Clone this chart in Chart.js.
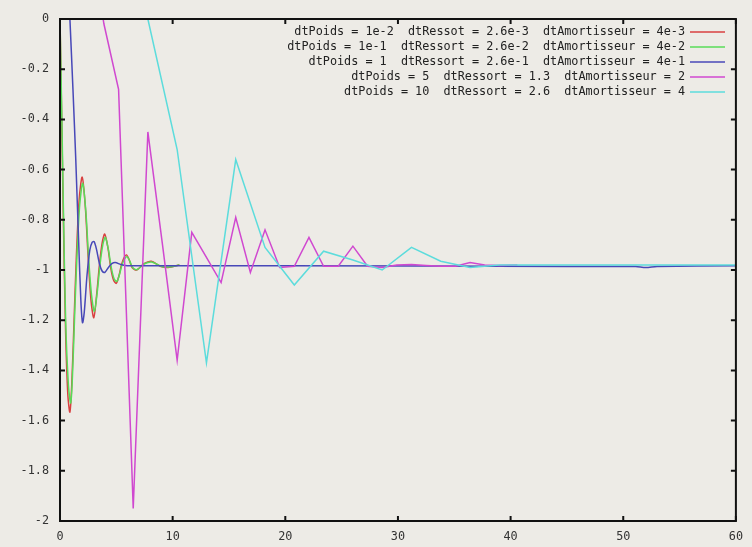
<!DOCTYPE html>
<html>
<head>
<meta charset="utf-8">
<script src="https://cdn.jsdelivr.net/npm/chart.js@4"></script>
<style>
  html, body { margin: 0; padding: 0; background: #edebe6; }
  #wrap { width: 752px; height: 547px; }
</style>
</head>
<body>
<div id="wrap"><canvas id="myChart" width="752" height="547"></canvas></div>
<script>
// values (time, position)
var redX = [0, 0.15, 0.3, 0.5, 0.7, 0.88, 1.05, 1.25, 1.45, 1.7, 1.97, 2.25, 2.5, 2.75, 3.0, 3.25, 3.5, 3.75, 3.97, 4.25, 4.5, 4.75, 5.0, 5.25, 5.45, 5.7, 5.9, 6.15, 6.4, 6.8, 7.45, 8.1, 8.9, 9.6, 10.6];
var redY = [0, -0.4, -0.8, -1.25, -1.5, -1.566, -1.45, -1.2, -0.95, -0.72, -0.63, -0.75, -0.95, -1.12, -1.19, -1.1, -0.98, -0.89, -0.857, -0.91, -0.99, -1.04, -1.053, -1.02, -0.98, -0.95, -0.94, -0.96, -0.99, -1.0, -0.975, -0.965, -0.985, -0.99, -0.98];

var greenX = [0, 0.15, 0.3, 0.5, 0.75, 0.95, 1.1, 1.3, 1.5, 1.75, 2.02, 2.3, 2.55, 2.8, 3.05, 3.3, 3.55, 3.8, 4.02, 4.3, 4.55, 4.8, 5.05, 5.3, 5.5, 5.75, 5.95, 6.2, 6.45, 6.85, 7.5, 8.15, 8.95, 9.65, 10.6];
var greenY = [0, -0.36, -0.75, -1.2, -1.46, -1.53, -1.43, -1.18, -0.95, -0.74, -0.655, -0.77, -0.96, -1.1, -1.165, -1.09, -0.98, -0.9, -0.87, -0.92, -0.99, -1.035, -1.045, -1.015, -0.98, -0.955, -0.947, -0.965, -0.99, -0.998, -0.975, -0.968, -0.985, -0.988, -0.98];

var blueX = [0.88, 1.15, 1.4, 1.65, 1.85, 2.0, 2.15, 2.4, 2.65, 2.85, 3.03, 3.25, 3.5, 3.75, 3.97, 4.3, 4.6, 4.9, 5.4, 6, 20, 45, 46, 47.4, 48.8, 51.1, 52, 53, 60];
var blueY = [0, -0.28, -0.56, -0.88, -1.12, -1.21, -1.17, -1.02, -0.92, -0.89, -0.887, -0.92, -0.975, -1.005, -1.01, -0.99, -0.975, -0.97, -0.978, -0.983, -0.983, -0.986, -0.986, -0.986, -0.986, -0.986, -0.99, -0.986, -0.983];

var magentaX = [2.6, 3.9, 5.2, 6.5, 7.8, 9.1, 10.4, 11.7, 13.0, 14.3, 15.6, 16.9, 18.2, 19.5, 20.8, 22.1, 23.4, 24.7, 26.0, 27.3, 28.6, 29.9, 31.2, 32.5, 33.8, 35.1, 36.4, 37.7, 39.0, 40.6];
var magentaY = [0.35, -0.02, -0.28, -1.95, -0.45, -0.9, -1.36, -0.85, -0.95, -1.05, -0.79, -1.01, -0.84, -0.99, -0.985, -0.87, -0.985, -0.985, -0.905, -0.985, -0.99, -0.98, -0.978, -0.982, -0.985, -0.985, -0.97, -0.98, -0.982, -0.98];

var cyanX = [5.2, 7.8, 10.4, 13.0, 15.6, 18.2, 20.8, 23.4, 26.0, 28.6, 31.2, 33.8, 36.4, 39.0, 60];
var cyanY = [0.5, 0.0, -0.52, -1.37, -0.56, -0.91, -1.06, -0.925, -0.96, -1.0, -0.91, -0.965, -0.99, -0.98, -0.98];

var seriesNames = [
  'dtPoids = 1e-2  dtRessot = 2.6e-3  dtAmortisseur = 4e-3',
  'dtPoids = 1e-1  dtRessort = 2.6e-2  dtAmortisseur = 4e-2',
  'dtPoids = 1  dtRessort = 2.6e-1  dtAmortisseur = 4e-1',
  'dtPoids = 5  dtRessort = 1.3  dtAmortisseur = 2',
  'dtPoids = 10  dtRessort = 2.6  dtAmortisseur = 4'
];
var colors = ['#d84040', '#58dc58', '#4848b8', '#d048d0', '#5cdcdc'];

var xTicks = [0, 10, 20, 30, 40, 50, 60];
var yTicks = [0, -0.2, -0.4, -0.6, -0.8, -1, -1.2, -1.4, -1.6, -1.8, -2];

function pts(xs, ys) {
  return xs.map(function (x, i) { return { x: x, y: ys[i] }; });
}

var allX = [redX, greenX, blueX, magentaX, cyanX];
var allY = [redY, greenY, blueY, magentaY, cyanY];
var smooth = [0.3, 0.3, 0.3, 0, 0];

var datasets = seriesNames.map(function (name, i) {
  return {
    label: name,
    data: pts(allX[i], allY[i]),
    borderColor: colors[i],
    borderWidth: 1.5,
    pointRadius: 0,
    tension: smooth[i],
    fill: false,
    order: 5 - i   // gnuplot draws later curves on top
  };
});

Chart.defaults.font.family = "'DejaVu Sans Mono', monospace";
Chart.defaults.font.size = 11.8;
Chart.defaults.color = '#333';

// gnuplot-like frame, inward ticks and the key at top right
var gnuFrame = {
  id: 'gnuFrame',
  beforeDraw: function (chart) {
    var c = chart.ctx;
    c.save();
    c.fillStyle = '#edebe6';
    c.fillRect(0, 0, chart.width, chart.height);
    c.restore();
  },
  afterDraw: function (chart) {
    var c = chart.ctx, a = chart.chartArea;
    var xs = chart.scales.x, ys = chart.scales.y;
    c.save();
    c.strokeStyle = '#111';
    c.lineWidth = 2;
    c.strokeRect(a.left, a.top, a.right - a.left, a.bottom - a.top);
    c.lineWidth = 2;
    c.beginPath();
    xTicks.forEach(function (v) {
      var px = xs.getPixelForValue(v);
      c.moveTo(px, a.bottom); c.lineTo(px, a.bottom - 5);
      c.moveTo(px, a.top); c.lineTo(px, a.top + 5);
    });
    yTicks.forEach(function (v) {
      var py = ys.getPixelForValue(v);
      c.moveTo(a.left, py); c.lineTo(a.left + 5, py);
      c.moveTo(a.right, py); c.lineTo(a.right - 5, py);
    });
    c.stroke();

    // key
    c.font = "11.8px 'DejaVu Sans Mono', monospace";
    c.textAlign = 'right';
    c.textBaseline = 'middle';
    seriesNames.forEach(function (name, i) {
      var y = 32 + i * 15;
      c.fillStyle = '#222';
      c.fillText(name, 685, y);
      c.strokeStyle = colors[i];
      c.lineWidth = 1.5;
      c.beginPath();
      c.moveTo(690, y); c.lineTo(725, y);
      c.stroke();
    });
    c.restore();
  }
};

var ctx = document.getElementById('myChart').getContext('2d');
var chart = new Chart(ctx, {
  type: 'line',
  data: { datasets: datasets },
  options: {
    responsive: false,
    animation: false,
    devicePixelRatio: 1,
    layout: { padding: { top: 19, right: 13, left: 0, bottom: 0 } },
    plugins: { legend: { display: false }, tooltip: { enabled: false } },
    scales: {
      x: {
        type: 'linear',
        min: 0, max: 60,
        afterFit: function (s) { s.height = 26; },
        afterBuildTicks: function (s) { s.ticks = xTicks.map(function (v) { return { value: v }; }); },
        grid: { display: false, drawTicks: false },
        border: { display: false },
        ticks: { padding: 9, maxRotation: 0, autoSkip: false }
      },
      y: {
        type: 'linear',
        min: -2, max: 0,
        afterFit: function (s) { s.width = 60; },
        afterBuildTicks: function (s) { s.ticks = yTicks.map(function (v) { return { value: v }; }); },
        grid: { display: false, drawTicks: false },
        border: { display: false },
        ticks: { padding: 11, autoSkip: false, callback: function (v) { return String(Math.round(v * 10) / 10); } }
      }
    }
  },
  plugins: [gnuFrame]
});
</script>
</body>
</html>
